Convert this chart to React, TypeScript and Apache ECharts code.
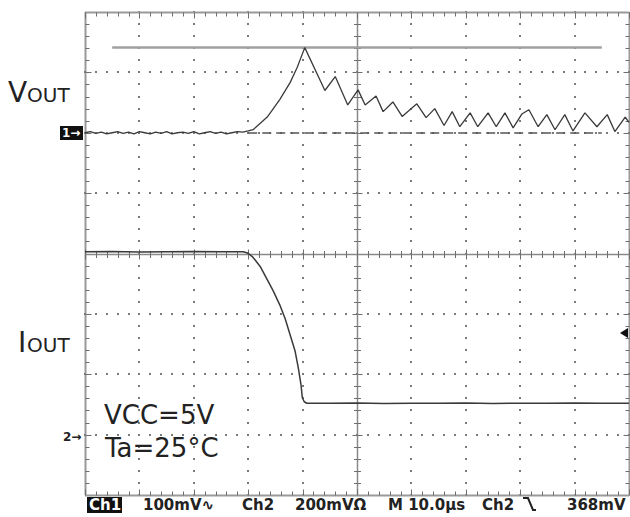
import React, { useEffect, useRef } from "react";
import * as echarts from "echarts";

// Time axis: 10 µs/div, 10 divisions, trigger reference at the centre
const timeMin = -50;
const timeMax = 50;
const timeDivs = [-50, -40, -30, -20, -10, 0, 10, 20, 30, 40, 50];
// Vertical axis in graticule divisions
const divMin = -4;
const divMax = 4;
const voltDivs = [-4, -3, -2, -1, 0, 1, 2, 3, 4];
const minorPerDiv = 5;

// Channel 1 (VOUT): 100 mV/div, ground marker at +2 div
const voutScale = 100;
const voutGround = 2;
const voutTime = [
  -50, -49, -48, -47, -46, -45, -44, -43, -42, -41, -40, -39, -38, -37, -36, -35,
  -34, -33, -32, -31, -30, -29, -28, -27, -26, -25, -24, -23, -22, -21, -20,
  -19.1, -16.5, -14.2, -12.3, -11.0, -9.6, -5.9, -4.0, -1.7, 0.2, 1.5, 3.5, 4.8,
  6.6, 8.3, 11.0, 12.7, 14.3, 16.0, 17.5, 18.9, 20.8, 22.2, 24.1, 25.6, 27.2,
  28.7, 30.3, 31.6, 33.3, 34.9, 36.4, 38.2, 39.7, 41.9, 44.1, 46.0, 47.4, 49.3, 50.0,
];
const voutMv = [
  0, 2, -1, 1, -2, 0, 2, -1, 1, -2, 2, 0, -2, 1, -1, 2,
  -2, 0, 1, -1, 2, -2, 0, 2, -1, 1, -2, 0, 2, 1, 3,
  5, 26, 55, 83, 108, 141, 70, 93, 46, 71, 46, 61, 35,
  51, 27, 48, 25, 40, 12, 35, 10, 33, 10, 33, 10, 33,
  8, 31, 38, 10, 30, 5, 30, 3, 33, 10, 30, 2, 26, 17,
];
const voutPeakRefMv = 141;
const voutPeakRefSpan = [-45, 45];
const voutGroundLineSpan = [-20, 45];

// Channel 2 (IOUT): 200 mV/div, ground marker at -3 div
const ioutScale = 200;
const ioutGround = -3;
const ioutTime = [
  -50, -45, -40, -35, -30, -25, -20.9, -20.0, -19.1, -17.8, -16.6, -15.4, -14.2,
  -13.2, -12.3, -11.4, -10.8, -10.3, -10.05, -9.7, -9.2, -5, 0, 5, 10, 15, 20,
  25, 30, 35, 40, 45, 50,
];
const ioutMv = [
  606, 607, 605, 606, 607, 606, 606, 601, 587, 557, 517, 476, 430,
  384, 331, 278, 222, 166, 122, 109, 104, 104, 105, 103, 104, 104, 105,
  103, 104, 104, 105, 104, 104,
];

const voutData = voutTime.map((t, i) => [t, voutGround + voutMv[i] / voutScale]);
const ioutData = ioutTime.map((t, i) => [t, ioutGround + ioutMv[i] / ioutScale]);

const statusItems = [
  { text: "100mV\u223F", x: 143 },
  { text: "Ch2", x: 242 },
  { text: "200mV\u03A9", x: 295 },
  { text: "M 10.0\u00B5s", x: 388 },
  { text: "Ch2", x: 482 },
  { text: "368mV", x: 567 },
];

const dotColor = "#7a7a7a";
const borderColor = "#9a9a9a";
const centerColor = "#8a8a8a";
const tickColor = "#6e6e6e";

function snap(v: number) {
  return Math.round(v) + 0.5;
}
function tickLine(x1: number, y1: number, x2: number, y2: number) {
  return { type: "line", shape: { x1, y1, x2, y2 }, style: { stroke: tickColor, lineWidth: 1 } };
}
function dot(p: number[]) {
  return { type: "rect", shape: { x: Math.round(p[0]) - 1, y: Math.round(p[1]) - 1, width: 2, height: 2 }, style: { fill: dotColor } };
}

// vertical graticule line at time t
function renderVertical(params: any, api: any) {
  const t = api.value(0);
  const top = api.coord([t, divMax]);
  const bottom = api.coord([t, divMin]);
  const isBorder = t === timeMin || t === timeMax;
  const isCenter = t === 0;
  const children: any[] = [];
  const x = snap(top[0]);
  if (isBorder || isCenter) {
    children.push({
      type: "line",
      shape: { x1: x, y1: top[1], x2: x, y2: bottom[1] },
      style: { stroke: isBorder ? borderColor : centerColor, lineWidth: isBorder ? 2 : 1.5 },
    });
  }
  const dir = t === timeMin ? 1 : -1;
  const n = (divMax - divMin) * minorPerDiv;
  for (let k = 0; k <= n; k++) {
    const v = divMin + k / minorPerDiv;
    const p = api.coord([t, v]);
    const y = snap(p[1]);
    const major = k % minorPerDiv === 0;
    if (isBorder) {
      const len = major ? 6 : 4;
      children.push(tickLine(x, y, x + dir * len, y));
    } else if (isCenter) {
      const len = major ? 5 : 3.5;
      children.push(tickLine(x - len, y, x + len, y));
    } else {
      children.push(dot(p));
    }
  }
  return { type: "group", children };
}

// horizontal graticule line at division v
function renderHorizontal(params: any, api: any) {
  const v = api.value(1);
  const left = api.coord([timeMin, v]);
  const right = api.coord([timeMax, v]);
  const isBorder = v === divMin || v === divMax;
  const isCenter = v === 0;
  const children: any[] = [];
  const y = snap(left[1]);
  if (isBorder || isCenter) {
    children.push({
      type: "line",
      shape: { x1: left[0], y1: y, x2: right[0], y2: y },
      style: { stroke: isBorder ? borderColor : centerColor, lineWidth: isBorder ? 2 : 1.5 },
    });
  }
  const dir = v === divMax ? 1 : -1;
  const n = ((timeMax - timeMin) / 10) * minorPerDiv;
  for (let k = 0; k <= n; k++) {
    const t = timeMin + (k * 10) / minorPerDiv;
    const p = api.coord([t, v]);
    const x = snap(p[0]);
    const major = k % minorPerDiv === 0;
    if (isBorder) {
      const len = major ? 6 : 4;
      children.push(tickLine(x, y, x, y + dir * len));
    } else if (isCenter) {
      const len = major ? 5 : 3.5;
      children.push(tickLine(x, y - len, x, y + len));
    } else {
      children.push(dot(p));
    }
  }
  return { type: "group", children };
}

const labelFont = "DejaVu Sans";

const graphics: any[] = [
  // VOUT label
  { type: "text", z: 100, style: { text: "V", x: 8, y: 92, fontSize: 28, fontFamily: labelFont, fill: "#222", verticalAlign: "middle" } },
  { type: "text", z: 100, style: { text: "OUT", x: 27, y: 95, fontSize: 20, fontFamily: labelFont, fill: "#222", verticalAlign: "middle" } },
  // IOUT label
  { type: "text", z: 100, style: { text: "I", x: 18, y: 342, fontSize: 28, fontFamily: labelFont, fill: "#222", verticalAlign: "middle" } },
  { type: "text", z: 100, style: { text: "OUT", x: 27, y: 345, fontSize: 20, fontFamily: labelFont, fill: "#222", verticalAlign: "middle" } },
  // Conditions
  { type: "text", z: 100, style: { text: "VCC=5V", x: 104, y: 415, fontSize: 26, fontFamily: labelFont, fill: "#222", verticalAlign: "middle" } },
  { type: "text", z: 100, style: { text: "Ta=25\u00B0C", x: 105, y: 448, fontSize: 26, fontFamily: labelFont, fill: "#222", verticalAlign: "middle" } },
  // Channel 1 marker
  { type: "rect", z: 100, shape: { x: 60, y: 126, width: 23, height: 14 }, style: { fill: "#111" } },
  { type: "text", z: 101, style: { text: "1\u2192", x: 62, y: 133, fontSize: 12, fontWeight: "bold", fontFamily: labelFont, fill: "#fff", verticalAlign: "middle" } },
  // Channel 2 marker
  { type: "text", z: 100, style: { text: "2\u2192", x: 63, y: 437, fontSize: 12, fontWeight: "bold", fontFamily: labelFont, fill: "#222", verticalAlign: "middle" } },
  // Trigger level marker
  { type: "polygon", z: 100, shape: { points: [[620, 333], [628, 328], [628, 338]] }, style: { fill: "#111" } },
  // Status bar
  { type: "rect", z: 100, shape: { x: 87, y: 497, width: 35, height: 16 }, style: { fill: "#111" } },
  { type: "text", z: 101, style: { text: "Ch1", x: 89, y: 505, fontSize: 15, fontWeight: "bold", fontFamily: labelFont, fill: "#fff", verticalAlign: "middle" } },
  ...statusItems.map((s) => ({
    type: "text",
    z: 100,
    style: { text: s.text, x: s.x, y: 505, fontSize: 15, fontWeight: "bold", fontFamily: labelFont, fill: "#222", verticalAlign: "middle" },
  })),
  // falling-edge trigger slope symbol
  { type: "polyline", z: 100, shape: { points: [[523, 498], [528, 498], [533, 510], [536, 510]] }, style: { stroke: "#222", lineWidth: 2, fill: "none" } },
];

const option: any = {
  animation: false,
  backgroundColor: "#ffffff",
  grid: { left: 85, top: 12, width: 544, height: 483, show: false, containLabel: false, outerBoundsMode: "none" },
  xAxis: { type: "value", min: timeMin, max: timeMax, interval: 10, show: false },
  yAxis: { type: "value", min: divMin, max: divMax, interval: 1, show: false },
  series: [
    {
      type: "custom",
      name: "graticule-v",
      silent: true,
      clip: false,
      z: 1,
      data: timeDivs.map((t) => [t, 0]),
      renderItem: renderVertical,
    },
    {
      type: "custom",
      name: "graticule-h",
      silent: true,
      clip: false,
      z: 1,
      data: voltDivs.map((v) => [0, v]),
      renderItem: renderHorizontal,
    },
    {
      type: "line",
      name: "VOUT",
      data: voutData,
      showSymbol: false,
      symbol: "none",
      lineStyle: { color: "#3a3a3a", width: 1.3 },
      z: 5,
      markLine: {
        silent: true,
        symbol: ["none", "none"],
        label: { show: false },
        data: [
          [
            { coord: [voutPeakRefSpan[0], voutGround + voutPeakRefMv / voutScale], lineStyle: { color: "#a0a0a0", width: 2.5, type: "solid" } },
            { coord: [voutPeakRefSpan[1], voutGround + voutPeakRefMv / voutScale] },
          ],
          [
            { coord: [voutGroundLineSpan[0], voutGround], lineStyle: { color: "#555", width: 1.5, type: [9, 5] } },
            { coord: [voutGroundLineSpan[1], voutGround] },
          ],
        ],
      },
    },
    {
      type: "line",
      name: "IOUT",
      data: ioutData,
      showSymbol: false,
      symbol: "none",
      lineStyle: { color: "#3a3a3a", width: 1.5 },
      z: 5,
    },
  ],
  graphic: graphics,
};

export default function App() {
  const ref = useRef<HTMLDivElement>(null);
  useEffect(() => {
    document.body.style.margin = "0";
    const chart = echarts.init(ref.current!, null, { renderer: "svg" });
    chart.setOption(option);
    return () => chart.dispose();
  }, []);
  return <div ref={ref} style={{ width: 630, height: 517, background: "#fff" }} />;
}
